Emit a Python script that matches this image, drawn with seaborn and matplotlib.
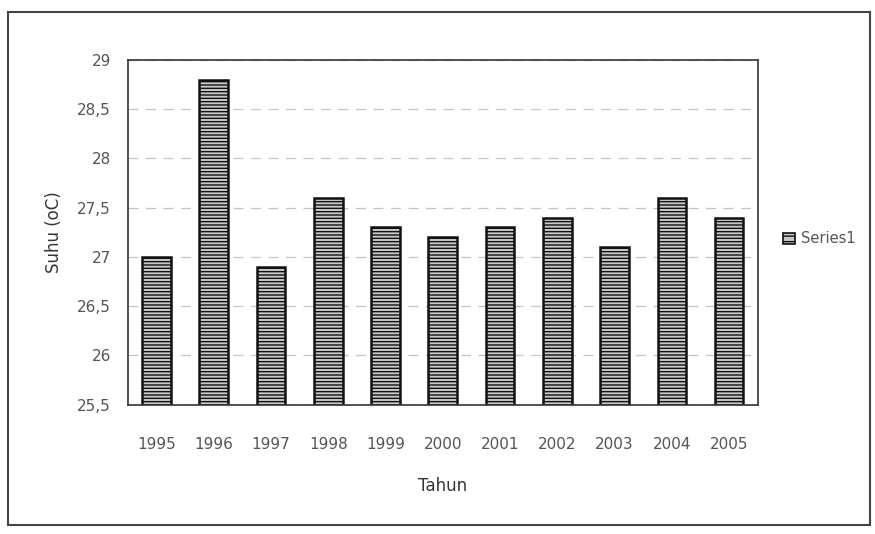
import matplotlib
matplotlib.use("Agg")
import matplotlib.pyplot as plt
import seaborn as sns
import pandas as pd
from matplotlib.patches import Rectangle, Patch

years = ["1995", "1996", "1997", "1998", "1999", "2000", "2001", "2002", "2003", "2004", "2005"]
suhu = [27.0, 28.8, 26.9, 27.6, 27.3, 27.2, 27.3, 27.4, 27.1, 27.6, 27.4]
yticks = [25.5, 26, 26.5, 27, 27.5, 28, 28.5, 29]
ytick_labels = ["25,5", "26", "26,5", "27", "27,5", "28", "28,5", "29"]
series_name = "Series1"

df = pd.DataFrame({"Tahun": years, "Suhu": suhu})

sns.set_theme(style="white")
plt.rcParams['font.family'] = ['DejaVu Sans']
plt.rcParams['hatch.color'] = '#555555'
plt.rcParams['hatch.linewidth'] = 1.0

fig = plt.figure(figsize=(8.75, 5.34), dpi=100)
ax = fig.add_axes([0.146, 0.242, 0.72, 0.646])

sns.barplot(data=df, x="Tahun", y="Suhu", ax=ax, color="#c8c8c8",
            width=0.5, edgecolor="#111111", linewidth=1.8, saturation=1)
for p in ax.patches:
    p.set_hatch("-----")

ax.set_ylim(25.5, 29)
ax.set_yticks(yticks)
ax.set_yticklabels(ytick_labels)
ax.yaxis.grid(True, color="#c4c4c4", linestyle=(0, (8, 6)), linewidth=0.9)
ax.set_axisbelow(True)
for s in ax.spines.values():
    s.set_color("#333333")
    s.set_linewidth(1.2)

ax.tick_params(axis="y", length=0, pad=12, labelsize=11, labelcolor="#555555")
ax.tick_params(axis="x", length=0, pad=23, labelsize=11, labelcolor="#555555")
ax.set_xlabel("Tahun", fontsize=12, color="#333333", labelpad=18)
ax.set_ylabel("Suhu (oC)", fontsize=12, color="#333333", labelpad=10)

handle = Patch(facecolor="#c8c8c8", edgecolor="#111111", hatch="---", linewidth=1.2)
fig.legend([handle], [series_name], loc="center left",
           bbox_to_anchor=(0.88, 0.553), frameon=False,
           fontsize=10.5, handlelength=0.8, handleheight=0.8, handletextpad=0.4,
           labelcolor="#555555")

fig.patches.append(Rectangle((8/875, 1-525/534), (870-8)/875, (525-12)/534,
                             transform=fig.transFigure, fill=False,
                             edgecolor="#444444", linewidth=1.5))

fig.savefig("out.png", dpi=100, facecolor="white")
